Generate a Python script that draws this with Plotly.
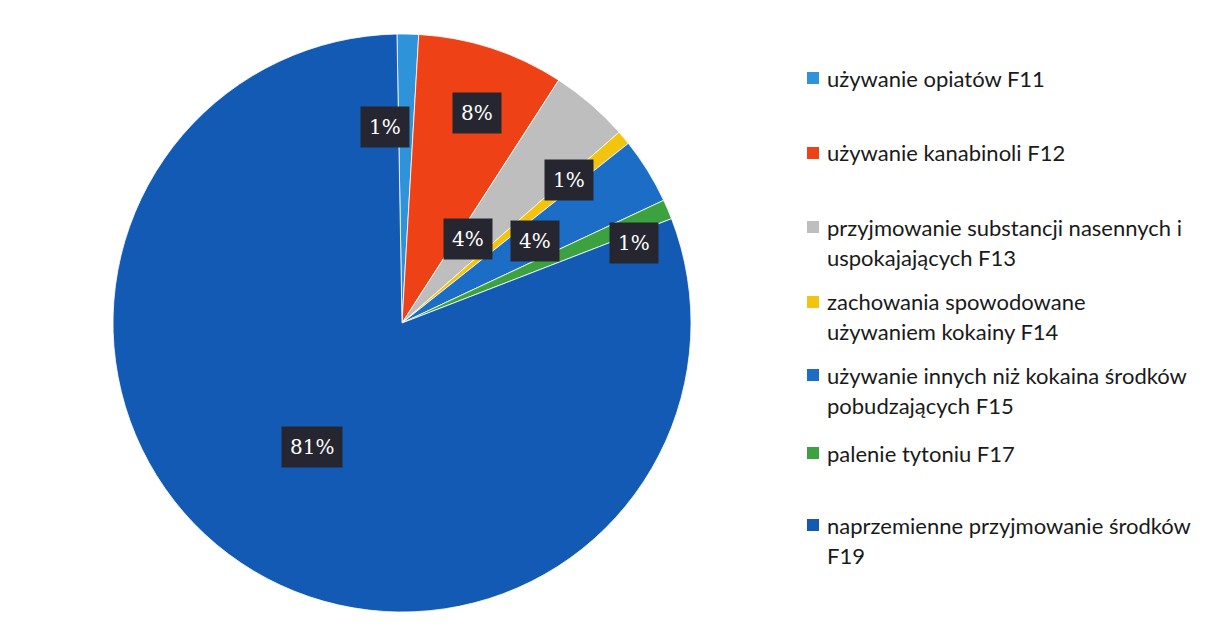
import math
import plotly.graph_objects as go

# ---- data ----
categories = [
    "używanie opiatów F11",
    "używanie kanabinoli F12",
    "przyjmowanie substancji nasennych i uspokajających F13",
    "zachowania spowodowane używaniem kokainy F14",
    "używanie innych niż kokaina środków pobudzających F15",
    "palenie tytoniu F17",
    "naprzemienne przyjmowanie środków F19",
]
values = [1.2, 8.2, 4.4, 0.8, 3.7, 1.1, 80.6]
value_labels = ["1%", "8%", "4%", "1%", "4%", "1%", "81%"]
legend_lines = [
    ["używanie opiatów F11"],
    ["używanie kanabinoli F12"],
    ["przyjmowanie substancji nasennych i", "uspokajających F13"],
    ["zachowania spowodowane", "używaniem kokainy F14"],
    ["używanie innych niż kokaina środków", "pobudzających F15"],
    ["palenie tytoniu F17"],
    ["naprzemienne przyjmowanie środków", "F19"],
]

# ---- style ----
colors = ["#2E93D9", "#EE4216", "#BEBEBE", "#F2C40F", "#1C6DC6", "#3CA23F", "#125AB3"]
W, H = 1220, 642
OFF = 8  # page body margin compensation
CX, CY, R = 402, 323, 289
label_rfrac = [0.68, 0.77, 0.37, 0.76, 0.54, 0.85, 0.53]
label_nudge = [-7.0, 0.6, -3.6, -1.8, -0.9, 3.2, 1.0]
legend_y_first = [78, 153, 227, 302, 375, 453, 525]
legend_line_gap = 30
legend_marker_x = 807
legend_text_x = 825


def px_x(x):
    return (x - OFF) / W


def px_y(y):
    return 1 - (y - OFF) / H


fig = go.Figure()
fig.add_trace(go.Pie(
    labels=categories,
    values=values,
    sort=False,
    direction="clockwise",
    rotation=-1,
    marker=dict(colors=colors, line=dict(color="white", width=0.8)),
    textinfo="none",
    hoverinfo="label+percent",
    showlegend=False,
    domain=dict(x=[px_x(CX - R), px_x(CX + R)], y=[px_y(CY + R), px_y(CY - R)]),
))

annotations = []
shapes = []
total = sum(values)
cum = 0.0
for i, v in enumerate(values):
    mid = (cum + v / 2) / total * 360.0
    cum += v
    th = math.radians(mid + label_nudge[i])
    r = R * label_rfrac[i]
    annotations.append(dict(
        x=px_x(CX + r * math.sin(th)), y=px_y(CY - r * math.cos(th)),
        xref="paper", yref="paper",
        text=value_labels[i], showarrow=False,
        font=dict(family="DejaVu Serif", size=20, color="white"),
        bgcolor="#262630", borderpad=8,
        xanchor="center", yanchor="middle",
    ))

for i, lines in enumerate(legend_lines):
    y0 = legend_y_first[i]
    shapes.append(dict(
        type="rect", xref="paper", yref="paper",
        x0=px_x(legend_marker_x), x1=px_x(legend_marker_x + 12),
        y0=px_y(y0 + 6), y1=px_y(y0 - 6),
        fillcolor=colors[i], line=dict(width=0),
    ))
    for j, line in enumerate(lines):
        annotations.append(dict(
            x=px_x(legend_text_x), y=px_y(y0 + j * legend_line_gap),
            xref="paper", yref="paper", text=line, showarrow=False,
            font=dict(family="Lato", size=22, color="#1a1a1a"),
            xanchor="left", yanchor="middle",
        ))

fig.update_layout(
    width=W, height=H,
    margin=dict(l=0, r=0, t=0, b=0),
    paper_bgcolor="white", plot_bgcolor="white",
    annotations=annotations, shapes=shapes,
)
fig.write_html("out.html")
